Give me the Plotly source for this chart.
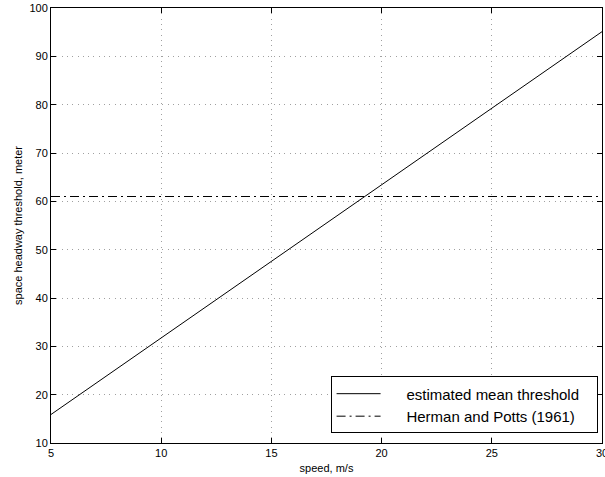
import plotly.graph_objects as go

speed = [5, 30]
est_threshold = [15.9, 95.1]
hp_speed = [5, 30]
hp_threshold = [61, 61]

x_ticks = [5, 10, 15, 20, 25, 30]
y_ticks = [10, 20, 30, 40, 50, 60, 70, 80, 90, 100]

pad = "\u00a0" * 5
tail = "\u00a0" * 3

fig = go.Figure()
fig.add_trace(go.Scatter(x=speed, y=est_threshold, mode="lines",
                         name=pad + "estimated mean threshold" + tail,
                         line=dict(color="black", width=1)))
fig.add_trace(go.Scatter(x=hp_speed, y=hp_threshold, mode="lines",
                         name=pad + "Herman and Potts (1961)",
                         line=dict(color="black", width=1, dash="9px,4px,2px,4px")))

axis_common = dict(
    showline=True, linecolor="black", linewidth=1, mirror="allticks",
    ticks="inside", ticklen=5, tickcolor="black",
    showgrid=True, gridcolor="#a0a0a0", griddash="1px,4.3px", gridwidth=1,
    zeroline=False, tickfont=dict(size=11, color="black"),
    ticklabeloverflow="allow", automargin=False,
)

fig.update_xaxes(range=[5, 30], tickvals=x_ticks, **axis_common,
                 title=dict(text="speed, m/s", font=dict(size=11, color="black"), standoff=6))
fig.update_yaxes(range=[10, 100], tickvals=y_ticks, **axis_common,
                 title=dict(text="space headway threshold, meter", font=dict(size=11, color="black"), standoff=4))

fig.update_layout(
    width=605, height=477,
    margin=dict(l=51, r=3, t=8, b=34),
    paper_bgcolor="white", plot_bgcolor="white",
    font=dict(family="Liberation Sans, Arial, sans-serif", color="black"),
    showlegend=True,
    legend=dict(x=0.992, y=0.022, xanchor="right", yanchor="bottom",
                bordercolor="black", borderwidth=1, bgcolor="white",
                font=dict(size=15), tracegroupgap=0, itemwidth=44),
)

fig.write_html("out.html")
